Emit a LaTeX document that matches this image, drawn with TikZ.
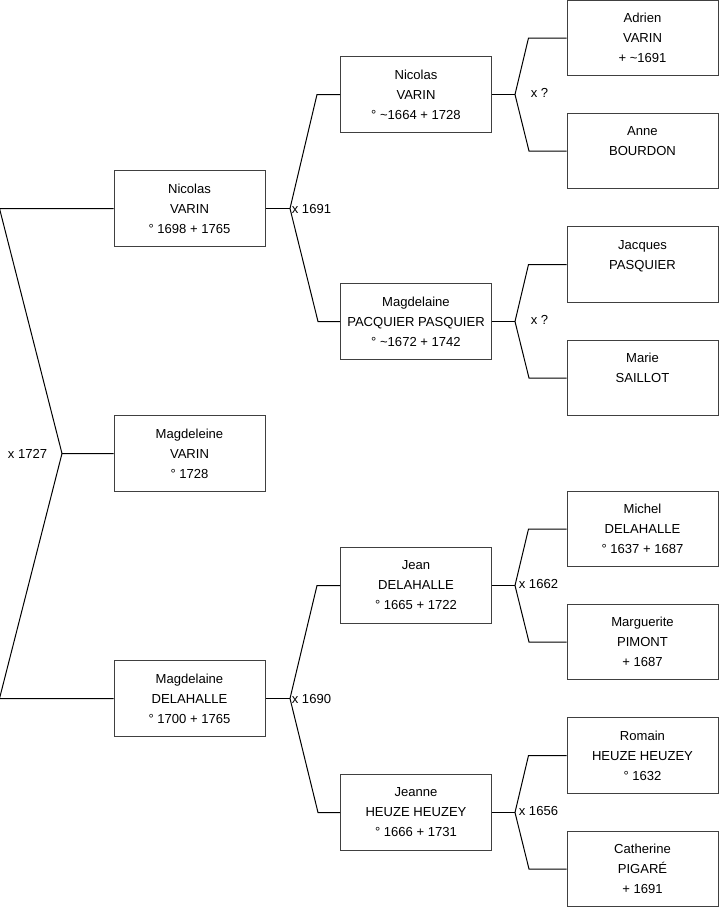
\documentclass[tikz,border=0pt]{standalone}
\usepackage{fontspec}
\setmainfont{Liberation Sans}
\usetikzlibrary{positioning}

\tikzset{
  person/.style={draw=black!75, rectangle, minimum width=113.25pt, minimum height=56.6pt, align=center, inner sep=0pt, font=\fontsize{9.8}{15}\selectfont},
  marr/.style={inner sep=1pt, font=\fontsize{9.8}{11}\selectfont}
}

\begin{document}
\begin{tikzpicture}[x=0.75pt, y=-0.75pt, line width=0.75pt]
			\useasboundingbox (0,0) rectangle (719,908);
			% generation 1
			\node[person] (S2) at (189.5,208.5) {Nicolas\\VARIN\\° 1698 + 1765};
			\node[person] (S1) at (189.5,453.5) {Magdeleine\\VARIN\\° 1728};
			\node[person] (S3) at (189.5,698.5) {Magdelaine\\DELAHALLE\\° 1700 + 1765};
			% generation 2
			\node[person] (S4) at (416,94.5) {Nicolas\\VARIN\\° \textasciitilde 1664 + 1728};
			\node[person] (S5) at (416,321.5) {Magdelaine\\PACQUIER PASQUIER\\° \textasciitilde 1672 + 1742};
			\node[person] (S6) at (416,585.5) {Jean\\DELAHALLE\\° 1665 + 1722};
			\node[person] (S7) at (416,812.5) {Jeanne\\HEUZE HEUZEY\\° 1666 + 1731};
			% generation 3
			\node[person] (S8) at (642.5,38) {Adrien\\VARIN\\+ \textasciitilde 1691};
			\node[person] (S9) at (642.5,151) {Anne\\BOURDON\\ \mbox{}};
			\node[person] (S10) at (642.5,264.5) {Jacques\\PASQUIER\\ \mbox{}};
			\node[person] (S11) at (642.5,378) {Marie\\SAILLOT\\ \mbox{}};
			\node[person] (S12) at (642.5,529) {Michel\\DELAHALLE\\° 1637 + 1687};
			\node[person] (S13) at (642.5,642) {Marguerite\\PIMONT\\+ 1687};
			\node[person] (S14) at (642.5,755.5) {Romain\\HEUZE HEUZEY\\° 1632};
			\node[person] (S15) at (642.5,869) {Catherine\\PIGARÉ\\+ 1691};

			% marriage points
			\coordinate (M1) at (62,453.5);
			\coordinate (V2) at (290,208.5);
			\coordinate (V3) at (290,698.5);
			\coordinate (V4) at (515,94.5);
			\coordinate (V5) at (515,321.5);
			\coordinate (V6) at (515,585.5);
			\coordinate (V7) at (515,812.5);

			\draw (S2.west) -- ++(-114,0) -- (M1) -- (S1.west);
			\draw (S3.west) -- ++(-114,0) -- (M1);
			\node[marr, anchor=east] (X1) at (49,453.5) {x 1727};

			\draw (S2.east) -- (V2);
			\draw (S4.west) -- ++(-23,0) -- (V2) -- ++(28,113) -- (S5.west);
			\node[marr, anchor=west] (X2) at (V2) {x 1691};
			\draw (S3.east) -- (V3);
			\draw (S6.west) -- ++(-23,0) -- (V3) -- ++(28,114) -- (S7.west);
			\node[marr, anchor=west] (X3) at (V3) {x 1690};

			\draw (S4.east) -- (V4);
			\draw (S8.west) -- ++(-38,0) -- (V4) -- ++(14,56.5) -- (S9.west);
			\node[marr, anchor=west] (X4) at (529,92.5) {x ?};
			\draw (S5.east) -- (V5);
			\draw (S10.west) -- ++(-38,0) -- (V5) -- ++(14,56.5) -- (S11.west);
			\node[marr, anchor=west] (X5) at (529,319.5) {x ?};
			\draw (S6.east) -- (V6);
			\draw (S12.west) -- ++(-38,0) -- (V6) -- ++(14,56.5) -- (S13.west);
			\node[marr, anchor=west] (X6) at (517,583.5) {x 1662};
			\draw (S7.east) -- (V7);
			\draw (S14.west) -- ++(-38,0) -- (V7) -- ++(14,56.5) -- (S15.west);
			\node[marr, anchor=west] (X7) at (517,810.5) {x 1656};
		\end{tikzpicture}
\end{document}
